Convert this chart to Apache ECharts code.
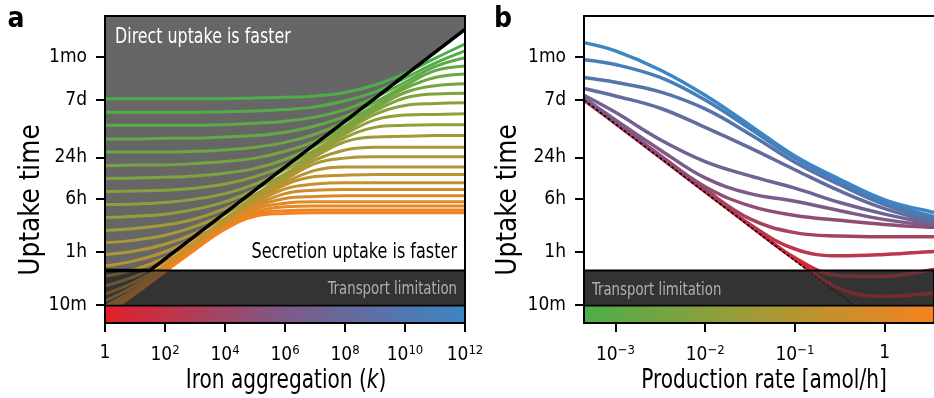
<!DOCTYPE html>
<html>
<head>
<meta charset="utf-8">
<script src="https://cdn.jsdelivr.net/npm/echarts@6/dist/echarts.min.js"></script>
<style>
  html, body { margin: 0; background: #fff; }
  #chart { width: 934px; height: 398px; }
</style>
</head>
<body>
<div id="chart"></div>
<script>
// time axis (shared), values in log10(minutes)
const timeTickLabels = ['10m', '1h', '6h', '24h', '7d', '1mo'];
const timeTickMinutes = [10, 60, 360, 1440, 10080, 43200];
const timeRange = [0.737, 5.23];
const transportBand = [0.99, 1.506];

// panel a: x = log10(k)
const kExp = [0, 1, 2, 3, 4, 5, 6, 7, 8, 9, 10, 11, 12];
const kTicks = [0, 2, 4, 6, 8, 10, 12];
// one row per production rate, green (low) -> orange (high)
const aCurves = [
  [4.02, 4.02, 4.02, 4.02, 4.02, 4.03, 4.04, 4.06, 4.11, 4.22, 4.39, 4.61, 4.82],
  [3.82, 3.82, 3.82, 3.82, 3.83, 3.84, 3.86, 3.90, 3.99, 4.12, 4.32, 4.54, 4.72],
  [3.63, 3.63, 3.63, 3.63, 3.64, 3.66, 3.69, 3.75, 3.86, 4.04, 4.26, 4.49, 4.62],
  [3.43, 3.43, 3.44, 3.44, 3.46, 3.48, 3.53, 3.62, 3.76, 3.97, 4.21, 4.43, 4.50],
  [3.24, 3.24, 3.24, 3.25, 3.27, 3.31, 3.38, 3.50, 3.68, 3.92, 4.17, 4.33, 4.38],
  [3.04, 3.05, 3.05, 3.07, 3.10, 3.15, 3.25, 3.40, 3.62, 3.88, 4.11, 4.21, 4.24],
  [2.85, 2.86, 2.87, 2.89, 2.93, 3.00, 3.13, 3.33, 3.58, 3.84, 4.03, 4.09, 4.10],
  [2.66, 2.67, 2.68, 2.71, 2.77, 2.88, 3.04, 3.27, 3.54, 3.79, 3.92, 3.95, 3.96],
  [2.47, 2.48, 2.50, 2.55, 2.63, 2.77, 2.98, 3.23, 3.50, 3.71, 3.78, 3.79, 3.80],
  [2.28, 2.30, 2.33, 2.40, 2.51, 2.69, 2.92, 3.20, 3.45, 3.60, 3.63, 3.64, 3.64],
  [2.09, 2.12, 2.17, 2.26, 2.41, 2.62, 2.89, 3.17, 3.39, 3.46, 3.47, 3.48, 3.48],
  [1.91, 1.95, 2.02, 2.15, 2.33, 2.58, 2.86, 3.12, 3.27, 3.31, 3.31, 3.31, 3.31],
  [1.74, 1.79, 1.89, 2.05, 2.27, 2.55, 2.83, 3.07, 3.15, 3.17, 3.17, 3.17, 3.17],
  [1.57, 1.65, 1.78, 1.98, 2.23, 2.52, 2.79, 2.97, 3.02, 3.02, 3.02, 3.02, 3.02],
  [1.42, 1.52, 1.69, 1.93, 2.20, 2.50, 2.76, 2.88, 2.90, 2.91, 2.91, 2.91, 2.91],
  [1.28, 1.42, 1.63, 1.89, 2.18, 2.48, 2.70, 2.77, 2.79, 2.79, 2.79, 2.79, 2.79],
  [1.16, 1.34, 1.58, 1.86, 2.17, 2.45, 2.63, 2.68, 2.69, 2.69, 2.69, 2.69, 2.69],
  [1.06, 1.28, 1.54, 1.84, 2.15, 2.43, 2.56, 2.59, 2.60, 2.60, 2.60, 2.60, 2.60],
  [0.98, 1.23, 1.52, 1.83, 2.14, 2.40, 2.49, 2.51, 2.51, 2.51, 2.51, 2.51, 2.51],
  [0.93, 1.20, 1.50, 1.82, 2.13, 2.36, 2.44, 2.45, 2.45, 2.45, 2.45, 2.45, 2.45],
  [0.89, 1.18, 1.49, 1.82, 2.12, 2.33, 2.38, 2.39, 2.39, 2.39, 2.39, 2.39, 2.39],
  [0.86, 1.16, 1.49, 1.81, 2.11, 2.30, 2.34, 2.35, 2.35, 2.35, 2.35, 2.35, 2.35]
];
// boundary direct vs secretion uptake: [log10 k, log10 min]
const directLine = [[0, 1.506], [1.5, 1.506], [12, 5.035]];

// panel b: x = log10(production rate, amol/h)
const rateRange = [-3.35, 0.55];
const rateExp = [-3.35, -3, -2.5, -2, -1.5, -1, -0.5, 0, 0.5, 0.7];
const rateTicks = [-3, -2, -1, 0];
// one row per aggregation k, red (k=1) -> blue (k=1e12)
const bCurves = [
  [4.00, 3.66, 3.16, 2.66, 2.16, 1.67, 1.24, 1.13, 1.17, 1.19],
  [4.00, 3.66, 3.16, 2.66, 2.17, 1.69, 1.43, 1.42, 1.51, 1.55],
  [4.01, 3.67, 3.17, 2.67, 2.18, 1.82, 1.72, 1.74, 1.78, 1.80],
  [4.01, 3.67, 3.17, 2.69, 2.26, 2.06, 2.01, 2.00, 2.00, 2.00],
  [4.02, 3.68, 3.19, 2.73, 2.45, 2.31, 2.24, 2.18, 2.14, 2.13],
  [4.03, 3.71, 3.27, 2.86, 2.63, 2.52, 2.38, 2.25, 2.17, 2.15],
  [4.07, 3.82, 3.42, 3.10, 2.89, 2.71, 2.50, 2.33, 2.20, 2.18],
  [4.17, 4.06, 3.88, 3.60, 3.30, 2.98, 2.67, 2.41, 2.23, 2.20],
  [4.33, 4.26, 4.12, 3.87, 3.50, 3.09, 2.76, 2.47, 2.27, 2.24],
  [4.59, 4.52, 4.33, 4.00, 3.58, 3.15, 2.81, 2.51, 2.31, 2.28],
  [4.84, 4.72, 4.44, 4.07, 3.63, 3.18, 2.84, 2.54, 2.37, 2.34]
];
// time = c / rate limit (dashed)
const productionLimit = [[-3.35, 4.0], [-0.315, 0.965]];

const FONT = "'Liberation Sans Narrow', 'DejaVu Sans Condensed', 'Roboto Condensed', sans-serif";
const rateColors = ['#4cae4a', '#a39a36', '#f5821f'];
const kColors = ['#e31f27', '#7d5a88', '#3b86c4'];

function hex(c) {
  return [1, 3, 5].map(i => parseInt(c.substr(i, 2), 16));
}
function mix(stops, t) {
  const seg = Math.min(stops.length - 2, Math.floor(t * (stops.length - 1)));
  const f = t * (stops.length - 1) - seg;
  const a = hex(stops[seg]), b = hex(stops[seg + 1]);
  return 'rgb(' + a.map((v, i) => Math.round(v + (b[i] - v) * f)).join(',') + ')';
}
function gradient(stops) {
  return new echarts.graphic.LinearGradient(0, 0, 1, 0,
    stops.map((c, i) => ({ offset: i / (stops.length - 1), color: c })));
}

function region(idx, pts, style, z) {
  return {
    type: 'custom', xAxisIndex: idx, yAxisIndex: idx, z: z, clip: true, silent: true,
    data: [[pts[0][0], pts[0][1]]],
    renderItem: function (params, api) {
      return { type: 'polygon', shape: { points: pts.map(p => api.coord(p)) }, style: style };
    }
  };
}

function timeLabel(v) {
  for (let i = 0; i < timeTickMinutes.length; i++) {
    if (Math.abs(Math.log10(timeTickMinutes[i]) - v) < 1e-6) return timeTickLabels[i];
  }
  return '';
}
function powLabel(v) {
  if (Math.abs(v) < 1e-9) return '1';
  return '10{s|' + String(v).replace('-', '\u2212') + '}';
}

const labelStyle = {
  color: '#000', fontSize: 19, fontFamily: FONT,
  rich: { s: { fontSize: 13, fontFamily: FONT, padding: [0, 0, 10, 0] } }
};
const lineAxis = { show: true, onZero: false, lineStyle: { color: '#000', width: 2 } };
const tickStyle = { show: true, length: 9, lineStyle: { color: '#000', width: 2 } };
const timeTickValues = timeTickMinutes.map(Math.log10);

function xAxisFor(idx, min, max, ticks) {
  return {
    type: 'value', gridIndex: idx, min: min, max: max, z: 10,
    axisLine: lineAxis,
    axisTick: Object.assign({ customValues: ticks }, tickStyle),
    axisLabel: Object.assign({ customValues: ticks, margin: 21, formatter: powLabel }, labelStyle),
    splitLine: { show: false }
  };
}
function yAxisFor(idx) {
  return {
    type: 'value', gridIndex: idx, min: timeRange[0], max: timeRange[1], z: 10,
    axisLine: lineAxis,
    axisTick: Object.assign({ customValues: timeTickValues }, tickStyle),
    axisLabel: Object.assign({ customValues: timeTickValues, margin: 18, formatter: timeLabel }, labelStyle),
    splitLine: { show: false }
  };
}
function frameX(idx, min, max) {
  return { type: 'value', gridIndex: idx, position: 'top', min: min, max: max, z: 10,
    axisLine: lineAxis, axisTick: { show: false }, axisLabel: { show: false }, splitLine: { show: false } };
}
function frameY(idx) {
  return { type: 'value', gridIndex: idx, position: 'right', min: timeRange[0], max: timeRange[1], z: 10,
    axisLine: lineAxis, axisTick: { show: false }, axisLabel: { show: false }, splitLine: { show: false } };
}

const series = [];
const aMin = 0, aMax = 12;
const tMax = timeRange[1], tMin = timeRange[0];

// panel a backgrounds
series.push(region(0, [[aMin, tMax], [aMax, tMax]].concat(directLine.slice().reverse()), { fill: '#666666' }, 1));
series.push(region(0, [[aMin, transportBand[0]], [aMax, transportBand[0]], [aMax, transportBand[1]], [aMin, transportBand[1]]], { fill: '#333333' }, 1));
aCurves.forEach(function (row, i) {
  series.push({
    type: 'line', xAxisIndex: 0, yAxisIndex: 0, z: 3, silent: true,
    data: kExp.map((x, t) => [x, row[t]]),
    smooth: 0.4, showSymbol: false,
    lineStyle: { width: 3, color: mix(rateColors, i / (aCurves.length - 1)) },
    emphasis: { disabled: true }
  });
});
series.push(region(0, [[aMin, transportBand[0]], [aMax, transportBand[0]], [aMax, transportBand[1]], [aMin, transportBand[1]]],
  { fill: 'rgba(51,51,51,0.62)', stroke: '#000', lineWidth: 2 }, 5));
series.push({
  type: 'line', xAxisIndex: 0, yAxisIndex: 0, z: 6, silent: true,
  data: directLine, showSymbol: false,
  lineStyle: { width: 3.5, color: '#000' }, emphasis: { disabled: true }
});
series.push(region(0, [[aMin, tMin], [aMax, tMin], [aMax, transportBand[0]], [aMin, transportBand[0]]],
  { fill: gradient(kColors), stroke: '#000', lineWidth: 1.5 }, 7));

// panel b
const bMin = rateRange[0], bMax = rateRange[1];
series.push(region(1, [[bMin, transportBand[0]], [bMax, transportBand[0]], [bMax, transportBand[1]], [bMin, transportBand[1]]], { fill: '#333333' }, 1));
bCurves.forEach(function (row, j) {
  series.push({
    type: 'line', xAxisIndex: 1, yAxisIndex: 1, z: 3, silent: true,
    data: rateExp.map((x, t) => [x, row[t]]),
    smooth: 0.4, showSymbol: false,
    lineStyle: { width: 3.5, color: mix(kColors, j / (bCurves.length - 1)) },
    emphasis: { disabled: true }
  });
});
series.push({
  type: 'line', xAxisIndex: 1, yAxisIndex: 1, z: 4, silent: true,
  data: productionLimit, showSymbol: false,
  lineStyle: { width: 1.5, color: '#000', type: [3, 2] }, emphasis: { disabled: true }
});
series.push(region(1, [[bMin, transportBand[0]], [bMax, transportBand[0]], [bMax, transportBand[1]], [bMin, transportBand[1]]],
  { fill: 'rgba(51,51,51,0.62)', stroke: '#000', lineWidth: 2 }, 5));
series.push(region(1, [[bMin, tMin], [bMax, tMin], [bMax, transportBand[0]], [bMin, transportBand[0]]],
  { fill: gradient(rateColors), stroke: '#000', lineWidth: 1.5 }, 7));

function label(x, y, text, size, opts) {
  return Object.assign({
    type: 'text', x: x, y: y, z: 20,
    style: Object.assign({ text: text, fontSize: size, fontFamily: FONT, fill: '#000',
      align: 'center', verticalAlign: 'middle' }, opts.style || {})
  }, opts.el || {});
}

const chart = echarts.init(document.getElementById('chart'), null, { renderer: 'canvas' });
chart.setOption({
  animation: false,
  textStyle: { fontFamily: FONT },
  grid: [
    { left: 105, top: 16, width: 360, height: 307 },
    { left: 584, top: 16, right: 0, height: 307 }
  ],
  xAxis: [
    xAxisFor(0, aMin, aMax, kTicks),
    xAxisFor(1, bMin, bMax, rateTicks),
    frameX(0, aMin, aMax),
    frameX(1, bMin, bMax)
  ],
  yAxis: [yAxisFor(0), yAxisFor(1), frameY(0)],
  series: series,
  graphic: [
    label(16, 20, 'a', 28, { style: { fontWeight: 'bold' } }),
    label(503, 20, 'b', 28, { style: { fontWeight: 'bold' } }),
    label(31, 200, 'Uptake time', 29, { el: { rotation: Math.PI / 2, scaleX: 0.95 } }),
    label(508, 200, 'Uptake time', 29, { el: { rotation: Math.PI / 2, scaleX: 0.95 } }),
    label(286, 381, 'Iron aggregation ({i|k})', 26, {
      el: { scaleX: 0.86 },
      style: { rich: { i: { fontSize: 26, fontFamily: FONT, fontStyle: 'italic' } } }
    }),
    label(764, 381, 'Production rate [amol/h]', 26, { el: { scaleX: 0.86 } }),
    label(115, 38, 'Direct uptake is faster', 21, { el: { scaleX: 0.84 }, style: { fill: '#fff', align: 'left' } }),
    label(457, 253, 'Secretion uptake is faster', 21, { el: { scaleX: 0.85 }, style: { align: 'right' } }),
    label(457, 290, 'Transport limitation', 17, { el: { scaleX: 0.87 }, style: { fill: '#b0b0b0', align: 'right' } }),
    label(592, 291, 'Transport limitation', 17, { el: { scaleX: 0.87 }, style: { fill: '#b0b0b0', align: 'left' } })
  ]
});
</script>
</body>
</html>
